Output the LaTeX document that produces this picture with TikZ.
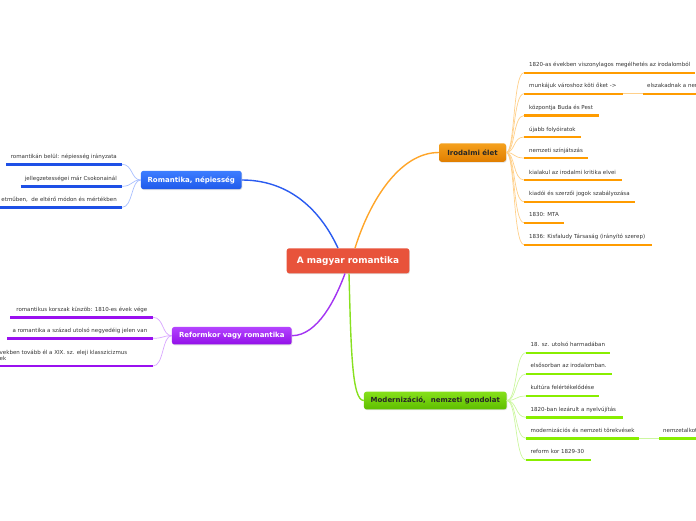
\documentclass[tikz,border=0pt]{standalone}
\usepackage{fontspec}
\setmainfont{DejaVu Sans}
\usetikzlibrary{shadows}
\definecolor{txt}{HTML}{333333}
\definecolor{cred}{HTML}{E8533B}
\definecolor{orT}{HTML}{F5A11E}\definecolor{orB}{HTML}{E07E00}
\definecolor{blT}{HTML}{3D7DFF}\definecolor{blB}{HTML}{1F5AEB}
\definecolor{puT}{HTML}{B444FF}\definecolor{puB}{HTML}{9210E8}
\definecolor{grT}{HTML}{86E01A}\definecolor{grB}{HTML}{5EBE00}
\definecolor{orMain}{HTML}{FFA528}\definecolor{blMain}{HTML}{2A5BF0}
\definecolor{puMain}{HTML}{A233F2}\definecolor{grMain}{HTML}{88E020}
\definecolor{orU}{HTML}{FF9C00}\definecolor{blU}{HTML}{1E50E6}
\definecolor{puU}{HTML}{9A10F0}\definecolor{grU}{HTML}{88EE00}
\definecolor{orL}{HTML}{FFD08A}\definecolor{blL}{HTML}{A8BFFF}
\definecolor{puL}{HTML}{D8A6FF}\definecolor{grL}{HTML}{CCF7A0}
\begin{document}
\begin{tikzpicture}[x=1pt,y=-1pt,
  mainnode/.style={rounded corners=2.5pt, inner sep=0pt,
    font=\bfseries\fontsize{7}{8}\selectfont,
    drop shadow={opacity=0.25, shadow xshift=0.6pt, shadow yshift=-0.9pt}},
  childtext/.style={inner sep=0pt, text=txt, font=\fontsize{5.5}{6.6}\selectfont,
    text height=4pt, text depth=1.2pt},
  uline/.style={line width=2.4pt},
  conn/.style={line width=0.7pt},
  mainconn/.style={line width=1.4pt}]
\useasboundingbox (0,0) rectangle (696,520);
\clip (0,0) rectangle (696,520);

% ---------- main nodes ----------
\node[mainnode, fill=cred, text=white, font=\bfseries\fontsize{8.9}{10}\selectfont,
  minimum width=122.6pt, minimum height=25pt] (c) at (348,260.8) {A magyar romantika};
\node[mainnode, top color=orT, bottom color=orB, text=black!85,
  minimum width=67pt, minimum height=18.5pt] (irod) at (472.5,152.5) {Irodalmi élet};
\node[mainnode, top color=blT, bottom color=blB, text=white,
  minimum width=100.7pt, minimum height=18.3pt] (rom) at (191.3,180) {Romantika, népiesség};
\node[mainnode, top color=puT, bottom color=puB, text=white,
  minimum width=119.7pt, minimum height=17.5pt] (ref) at (231.8,335.7) {Reformkor vagy romantika};
\node[mainnode, top color=grT, bottom color=grB, text=black!85,
  minimum width=142.7pt, minimum height=17.6pt] (mod) at (435.3,400.5) {Modernizáció,\ \ nemzeti gondolat};

% ---------- main connectors ----------
\draw[mainconn, blMain] ([xshift=-10pt]c.north) .. controls (318,205) and (285,180) .. (rom.east);
\draw[mainconn, orMain] ([xshift=7pt]c.north) .. controls (370,200) and (400,152.5) .. (irod.west);
\draw[mainconn, puMain] ([xshift=-3pt]c.south) .. controls (336,298) and (318,335.7) .. (ref.east);
\draw[mainconn, grMain] ([xshift=1pt]c.south) .. controls (351,350) and (352,400.5) .. (mod.west);

% ---------- Irodalmi élet children ----------
\foreach \n/\y/\e/\t in {
  i1/72.7/695/{1820-as években viszonylagos megélhetés az irodalomból},
  i2/93.7/623/{munkájuk városhoz köti őket ->},
  i3/115.5/599/{központja Buda és Pest},
  i4/137/581/{újabb folyóiratok},
  i5/158/588/{nemzeti színjátszás},
  i6/180/622/{kialakul az irodalmi kritika elvei},
  i7/201.7/635/{kiadói és szerzői jogok szabályozása},
  i8/222.7/564/{1830: MTA},
  i9/244.7/652/{1836: Kisfaludy Társaság (irányító szerep)}}{
  \coordinate (\n s) at (524,\y);
  \coordinate (\n e) at (\e,\y);
  \node[childtext, anchor=west] (\n) at (529,\y-7.3) {\t};
  \draw[conn, orL] (irod.east) .. controls (515,152.5) and (513,\y) .. (\n s);
  \draw[uline, orU] (\n s) -- (\n e);
}
\coordinate (i2bs) at (643,93.7);
\coordinate (i2be) at (700,93.7);
\node[childtext, anchor=west] (i2b) at (647,86.4) {elszakadnak a nem};
\draw[conn, orL] (i2e) -- (i2bs);
\draw[uline, orU] (i2bs) -- (i2be);

% ---------- Romantika, népiesség children ----------
\foreach \n/\y/\s/\t in {
  r1/164.3/6/{romantikán belül: népiesség irányzata},
  r2/186.3/20.7/{jellegzetességei már Csokonainál},
  r3/207.3/-5/{etműben,\ \ de eltérő módon és mértékben}}{
  \coordinate (\n s) at (\s,\y);
  \coordinate (\n e) at (122,\y);
  \node[childtext, anchor=east] (\n) at (117,\y-6.8) {\t};
  \draw[conn, blL] (rom.west) .. controls (131,180) and (133,\y) .. (\n e);
  \draw[uline, blU] (\n s) -- (\n e);
}

% ---------- Reformkor vagy romantika children ----------
\foreach \n/\y/\s/\t in {
  p1/317.3/10/{romantikus korszak küszöb: 1810-es évek vége},
  p2/338.3/7.3/{a romantika a század utolsó negyedéig jelen van}}{
  \coordinate (\n s) at (\s,\y);
  \coordinate (\n e) at (153,\y);
  \node[childtext, anchor=east] (\n) at (147.5,\y-7.2) {\t};
  \draw[conn, puL] (ref.west) .. controls (162,335.7) and (164,\y) .. (\n e);
  \draw[uline, puU] (\n s) -- (\n e);
}
\coordinate (p3s) at (-5,366);
\coordinate (p3e) at (153,366);
\node[inner sep=0pt, text=txt, font=\fontsize{5.5}{6.6}\selectfont, align=left,
  anchor=north west] (p3) at (-0.5,349.5) {vekben tovább él a XIX. sz. eleji klasszicizmus\\ek};
\draw[conn, puL] (ref.west) .. controls (162,335.7) and (164,366) .. (p3e);
\draw[uline, puU] (p3s) -- (p3e);

% ---------- Modernizáció children ----------
\foreach \n/\y/\e/\t in {
  m1/352.7/610/{18. sz. utolsó harmadában},
  m2/374/612/{elsősorban az irodalomban.},
  m3/396/599/{kultúra felértékelődése},
  m4/417.3/623/{1820-ban lezárult a nyelvújítás},
  m5/438.3/639/{modernizációs és nemzeti törekvések},
  m6/460/591/{reform kor 1829-30}}{
  \coordinate (\n s) at (526,\y);
  \coordinate (\n e) at (\e,\y);
  \node[childtext, anchor=west] (\n) at (530.5,\y-7.5) {\t};
  \draw[conn, grL] (mod.east) .. controls (517,400.5) and (515,\y) .. (\n s);
  \draw[uline, grU] (\n s) -- (\n e);
}
\coordinate (m5bs) at (659,438.3);
\coordinate (m5be) at (700,438.3);
\node[childtext, anchor=west] (m5b) at (663,430.8) {nemzetalkot};
\draw[conn, grL] (m5e) -- (m5bs);
\draw[uline, grU] (m5bs) -- (m5be);
\end{tikzpicture}
\end{document}
